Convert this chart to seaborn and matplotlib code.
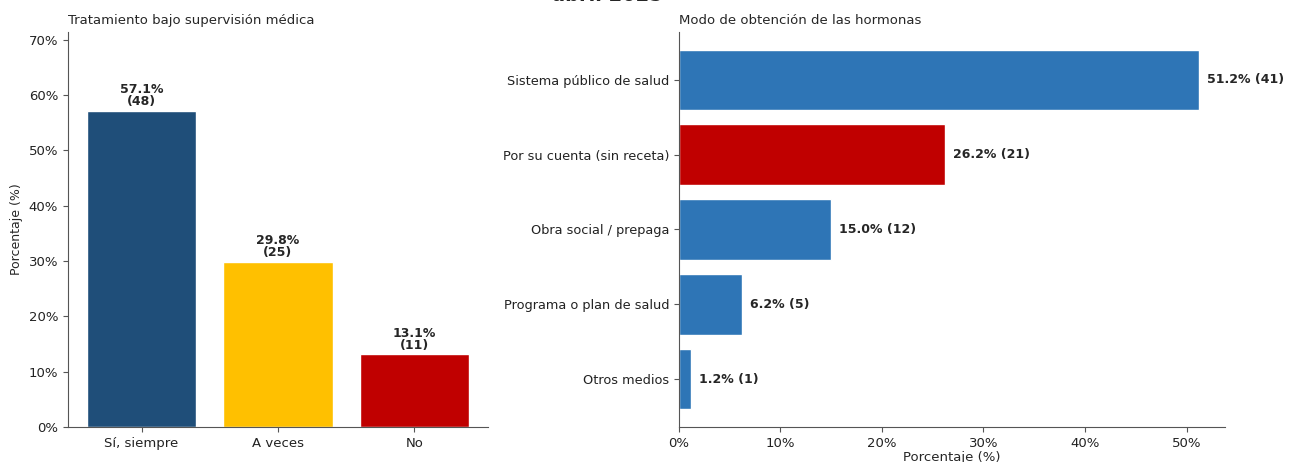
import matplotlib
matplotlib.use("Agg")
import matplotlib.pyplot as plt
import seaborn as sns
import pandas as pd
from matplotlib.ticker import PercentFormatter

# datos: supervisión médica
sup_cats = ["Sí, siempre", "A veces", "No"]
sup_pct = [57.1, 29.8, 13.1]
sup_n = [48, 25, 11]
sup_colors = ["#1f4e79", "#ffc000", "#c00000"]

# datos: modo de obtención
obt_cats = ["Sistema público de salud", "Por su cuenta (sin receta)", "Obra social / prepaga",
            "Programa o plan de salud", "Otros medios"]
obt_pct = [51.2, 26.2, 15.0, 6.2, 1.2]
obt_n = [41, 21, 12, 5, 1]
obt_colors = ["#2e75b6", "#c00000", "#2e75b6", "#2e75b6", "#2e75b6"]

sns.set_style("ticks")
plt.rcParams["font.family"] = ["DejaVu Sans"]
plt.rcParams["axes.edgecolor"] = "#555555"
plt.rcParams["xtick.color"] = "#555555"
plt.rcParams["ytick.color"] = "#555555"
plt.rcParams["xtick.labelcolor"] = "#222222"
plt.rcParams["ytick.labelcolor"] = "#222222"

df_sup = pd.DataFrame({"cat": sup_cats, "pct": sup_pct, "n": sup_n})
df_obt = pd.DataFrame({"cat": obt_cats, "pct": obt_pct, "n": obt_n})

fig, (ax1, ax2) = plt.subplots(1, 2, figsize=(12.92, 4.62), dpi=100,
                               gridspec_kw={"width_ratios": [420, 546]})
fig.subplots_adjust(left=0.0526, right=0.948, bottom=0.0758, top=0.9307, wspace=0.395)

# panel izquierdo
sns.barplot(data=df_sup, x="cat", y="pct", hue="cat", palette=sup_colors,
            legend=False, width=0.8, saturation=1, ax=ax1)
ax1.set_xlim(-0.54, len(sup_cats) - 1 + 0.54)
ax1.set_ylim(0, max(sup_pct) * 1.25)
ax1.yaxis.set_major_formatter(PercentFormatter(decimals=0))
ax1.set_xlabel("")
ax1.set_ylabel("Porcentaje (%)", fontsize=9)
ax1.set_title("Tratamiento bajo supervisión médica", loc="left", fontsize=9.5)
for i, (p, n) in enumerate(zip(sup_pct, sup_n)):
    ax1.annotate(f"{p:.1f}%\n({n})", (i, p), xytext=(0, 2), textcoords="offset points",
                 ha="center", va="bottom", fontsize=9, fontweight="bold", linespacing=0.9)
ax1.tick_params(labelsize=9.5)
sns.despine(ax=ax1)

# panel derecho
sns.barplot(data=df_obt, y="cat", x="pct", hue="cat", palette=obt_colors,
            legend=False, width=0.81, saturation=1, orient="h", ax=ax2)
ax2.set_ylim(len(obt_cats) - 1 + 0.64, -0.64)
ax2.set_xlim(0, max(obt_pct) * 1.05)
ax2.xaxis.set_major_formatter(PercentFormatter(decimals=0))
ax2.set_ylabel("")
ax2.set_xlabel("Porcentaje (%)", fontsize=9.5, labelpad=1)
ax2.set_title("Modo de obtención de las hormonas", loc="left", fontsize=9.5)
for i, (p, n) in enumerate(zip(obt_pct, obt_n)):
    ax2.annotate(f"{p:.1f}% ({n})", (p, i), xytext=(6, 0), textcoords="offset points",
                 ha="left", va="center", fontsize=9, fontweight="bold")
ax2.tick_params(axis="x", labelsize=9.5)
ax2.tick_params(axis="y", labelsize=9.3)
sns.despine(ax=ax2)

fig.text(0.47, 1.009, "abril 2025", ha="center", va="center", fontsize=14, fontweight="bold")

fig.savefig("out.png", dpi=100)
